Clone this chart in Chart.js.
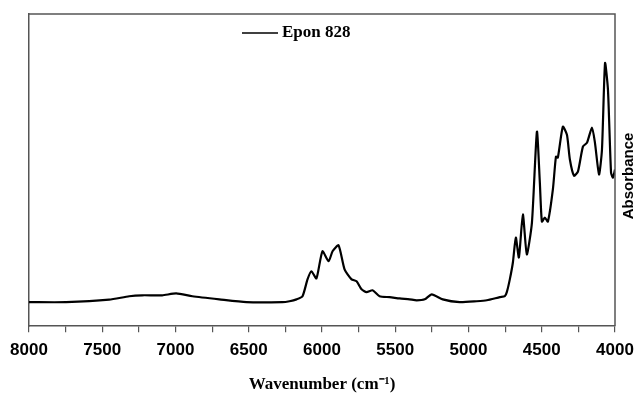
<!DOCTYPE html>
<html lang="en">
<head>
  <meta charset="UTF-8">
  <title>Epon 828 NIR spectrum</title>
  <script src="https://cdn.jsdelivr.net/npm/chart.js"></script>
  <style>
    html, body { margin: 0; padding: 0; background: #ffffff; }
    #wrap { width: 635px; height: 396px; position: relative; }
  </style>
</head>
<body>
  <div id="wrap">
    <canvas id="spectrum"></canvas>
  </div>

  <script>
    // wavenumber (cm-1)
    const wavenumbers = [
      8000, 7747, 7453, 7316, 7227, 7091, 6995, 6885, 6701, 6516, 6270, 6222, 6174,
      6133, 6099, 6072, 6038, 5997, 5955, 5928, 5887, 5846, 5798, 5764, 5730, 5696,
      5655, 5607, 5538, 5470, 5402, 5354, 5299, 5251, 5176, 5060, 4944, 4875, 4786,
      4752, 4738, 4718, 4697, 4677, 4656, 4629, 4602, 4567, 4533, 4513, 4499, 4479,
      4458, 4424, 4403, 4390, 4356, 4328, 4308, 4280, 4253, 4219, 4191, 4157, 4137,
      4109, 4089, 4068, 4048, 4027, 4014, 4000
    ];
    // absorbance (arbitrary units, axis has no numbers)
    const absorbance = [
      0.077, 0.077, 0.085, 0.096, 0.099, 0.099, 0.105, 0.096, 0.086, 0.077, 0.077, 0.080, 0.086,
      0.096, 0.150, 0.176, 0.153, 0.240, 0.208, 0.240, 0.259, 0.182, 0.150, 0.144, 0.118, 0.109,
      0.115, 0.096, 0.093, 0.089, 0.086, 0.083, 0.086, 0.102, 0.086, 0.077, 0.080, 0.083, 0.093,
      0.096, 0.110, 0.150, 0.204, 0.284, 0.220, 0.358, 0.230, 0.332, 0.623, 0.460, 0.335, 0.348,
      0.335, 0.438, 0.543, 0.540, 0.639, 0.613, 0.534, 0.482, 0.495, 0.575, 0.588, 0.636, 0.588,
      0.486, 0.565, 0.843, 0.757, 0.492, 0.476, 0.502
    ];
    const seriesName = 'Epon 828';
    const xTicks = [8000, 7500, 7000, 6500, 6000, 5500, 5000, 4500, 4000];

    const points = wavenumbers.map((w, i) => ({ x: w, y: absorbance[i] }));

    // frame on top/right, inline legend, right-hand "Absorbance" label
    const extras = {
      id: 'extras',
      afterDraw(chart) {
        const ctx = chart.ctx;
        const a = chart.chartArea;
        ctx.save();
        ctx.strokeStyle = '#555555';
        ctx.lineWidth = 1.5;
        ctx.beginPath();
        ctx.moveTo(a.left, a.top);
        ctx.lineTo(a.right, a.top);
        ctx.lineTo(a.right, a.bottom);
        ctx.stroke();

        // legend
        ctx.strokeStyle = '#000000';
        ctx.lineWidth = 1.5;
        ctx.beginPath();
        ctx.moveTo(242, 33);
        ctx.lineTo(278, 33);
        ctx.stroke();
        ctx.fillStyle = '#000000';
        ctx.font = 'bold 17px "Liberation Serif", serif';
        ctx.textBaseline = 'middle';
        ctx.textAlign = 'left';
        ctx.fillText(chart.data.datasets[0].label, 282, 33);

        // y title
        ctx.translate(629, 176);
        ctx.rotate(-Math.PI / 2);
        ctx.font = 'bold 15px "Liberation Sans", Arial, sans-serif';
        ctx.textAlign = 'center';
        ctx.fillText('Absorbance', 0, 0);
        ctx.restore();
      }
    };

    const ctx = document.getElementById('spectrum').getContext('2d');
    new Chart(ctx, {
      type: 'line',
      data: {
        datasets: [{
          label: seriesName,
          data: points,
          borderColor: '#000000',
          borderWidth: 2.2,
          pointRadius: 0,
          tension: 0.2,
          fill: false
        }]
      },
      options: {
        responsive: true,
        maintainAspectRatio: false,
        animation: false,
        layout: {
          padding: { left: 29, right: 20, top: 14, bottom: 1 }
        },
        plugins: {
          legend: { display: false },
          tooltip: { enabled: false }
        },
        scales: {
          x: {
            type: 'linear',
            reverse: true,
            min: 4000,
            max: 8000,
            afterBuildTicks(scale) {
              const t = [];
              for (let v = 4000; v <= 8000; v += 250) t.push({ value: v });
              scale.ticks = t;
            },
            grid: {
              drawOnChartArea: false,
              drawTicks: true,
              tickLength: 6,
              color: '#555555',
              lineWidth: 1.2
            },
            border: { display: true, color: '#555555', width: 1.5 },
            ticks: {
              autoSkip: false,
              maxRotation: 0,
              padding: 8,
              color: '#000000',
              font: { family: '"Liberation Sans", Arial, sans-serif', size: 17, weight: 'bold' },
              callback: function(value) {
                return xTicks.includes(value) ? String(value) : '';
              }
            },
            title: {
              display: true,
              text: 'Wavenumber (cm\u207B\u00B9)',
              color: '#000000',
              padding: { top: 6, bottom: 0 },
              font: { family: '"Liberation Serif", serif', size: 17, weight: 'bold' }
            }
          },
          y: {
            min: 0,
            max: 1,
            grid: { display: false, drawTicks: false },
            border: { display: true, color: '#555555', width: 1.5 },
            ticks: { display: false }
          }
        }
      },
      plugins: [extras]
    });
  </script>
</body>
</html>
